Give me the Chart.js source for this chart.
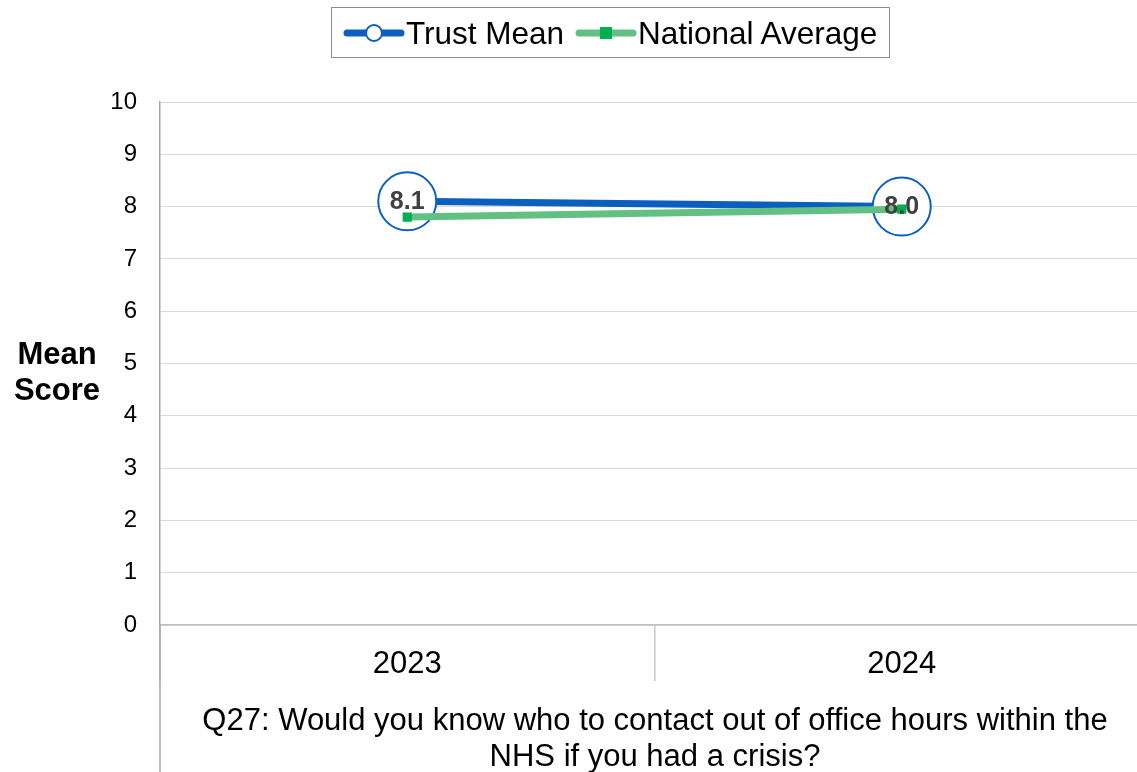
<!DOCTYPE html>
<html>
<head>
<meta charset="utf-8">
<script src="https://cdn.jsdelivr.net/npm/chart.js@4/dist/chart.umd.min.js"></script>
<style>
  html, body { margin: 0; padding: 0; background: #fff; overflow: hidden; }
  body { width: 1137px; height: 772px; position: relative; font-family: Arial, "Liberation Sans", sans-serif; color: #000; }
  #wrap { position: absolute; left: 0; top: 0; width: 1180px; height: 772px; }
  #chart { display: block; width: 1180px; height: 772px; }
  #legend { position: absolute; left: 331px; top: 7px; width: 559px; height: 51px; border: 1px solid #8c8c8c; box-sizing: border-box; }
  .item { position: absolute; top: 0; height: 49px; line-height: 50px; font-size: 31.5px; white-space: nowrap; }
  .item svg { position: absolute; top: 14px; left: 0; }
  .item span { position: absolute; top: 0; left: 60px; }
  #ytitle { position: absolute; left: 0; width: 114px; top: 336px; text-align: center; font-weight: bold; font-size: 31px; line-height: 36px; }
  #xtitle { position: absolute; left: 160px; width: 990px; top: 702px; text-align: center; font-size: 31px; line-height: 36px; }
</style>
</head>
<body>
<div id="wrap"><canvas id="chart" width="1180" height="772"></canvas></div>

<div id="legend">
  <div class="item" style="left:11px">
    <svg width="62" height="22"><line x1="4" y1="11" x2="58" y2="11" stroke="#0A5FBF" stroke-width="7" stroke-linecap="round"/><circle cx="31" cy="11" r="8" fill="#fff" stroke="#0A5FBF" stroke-width="2"/></svg>
    <span style="left:63px">Trust Mean</span>
  </div>
  <div class="item" style="left:243px">
    <svg width="62" height="22"><line x1="4" y1="11" x2="58" y2="11" stroke="#62C083" stroke-width="7" stroke-linecap="round"/><rect x="25" y="5" width="12" height="12" fill="#00B050"/></svg>
    <span style="left:63px">National Average</span>
  </div>
</div>
<div id="ytitle">Mean<br>Score</div>
<div id="xtitle">Q27: Would you know who to contact out of office hours within the<br>NHS if you had a crisis?</div>

<script>
// Survey years and scores
const years = ['2023', '2024'];
const trustMean = [8.1, 8.0];
const nationalAverage = [7.8, 7.95];
const yTicks = [0, 1, 2, 3, 4, 5, 6, 7, 8, 9, 10];

const blue = '#0A5FBF';
const green = '#62C083';
const font = 'Arial, "Liberation Sans", sans-serif';

// Bold value labels inside the trust markers
const valueLabels = {
  id: 'valueLabels',
  afterDatasetsDraw(chart) {
    const ctx = chart.ctx;
    const meta = chart.getDatasetMeta(0);
    ctx.save();
    ctx.font = 'bold 25px ' + font;
    ctx.fillStyle = '#404040';
    ctx.textAlign = 'center';
    ctx.textBaseline = 'middle';
    meta.data.forEach((pt, i) => {
      ctx.fillText(trustMean[i].toFixed(1), pt.x, pt.y + 1);
    });
    ctx.restore();
  }
};

// Left axis line carries on down past the category labels
const axisTail = {
  id: 'axisTail',
  afterDraw(chart) {
    const ctx = chart.ctx;
    const a = chart.chartArea;
    ctx.save();
    ctx.strokeStyle = '#a6a6a6';
    ctx.lineWidth = 1.5;
    ctx.beginPath();
    ctx.moveTo(a.left, a.bottom);
    ctx.lineTo(a.left, chart.height);
    ctx.stroke();
    ctx.restore();
  }
};

new Chart(document.getElementById('chart'), {
  type: 'line',
  data: {
    labels: years,
    datasets: [
      {
        label: 'Trust Mean',
        data: trustMean,
        borderColor: blue,
        borderWidth: 7,
        pointRadius: 29,
        pointBorderWidth: 2,
        pointBorderColor: blue,
        pointBackgroundColor: '#fff',
        order: 1
      },
      {
        label: 'National Average',
        data: nationalAverage,
        borderColor: green,
        borderWidth: 7,
        pointStyle: 'rect',
        pointRadius: 6.5,
        pointBorderWidth: 0,
        pointBackgroundColor: '#00B050',
        order: 0
      }
    ]
  },
  options: {
    responsive: false,
    maintainAspectRatio: false,
    animation: false,
    layout: { padding: { top: 102, right: 13, left: 0, bottom: 0 } },
    plugins: {
      legend: { display: false },
      tooltip: { enabled: false }
    },
    scales: {
      x: {
        offset: true,
        afterFit(scale) { scale.height = 147; },
        grid: {
          offset: true,
          drawOnChartArea: false,
          drawTicks: true,
          tickLength: 56,
          lineWidth: 1.5,
          color: '#c8c8c8'
        },
        border: { color: '#c0c0c0', width: 1.5 },
        ticks: {
          padding: -35,
          color: '#000',
          font: { family: font, size: 31 }
        }
      },
      y: {
        min: 0,
        max: 10,
        afterFit(scale) { scale.width = 160; },
        afterBuildTicks(scale) { scale.ticks = yTicks.map(v => ({ value: v })); },
        grid: { color: '#d9d9d9', drawTicks: false },
        border: { color: '#a6a6a6', width: 1.5 },
        ticks: {
          padding: 23,
          color: '#000',
          font: { family: font, size: 24 }
        }
      }
    }
  },
  plugins: [valueLabels, axisTail]
});
</script>
</body>
</html>
